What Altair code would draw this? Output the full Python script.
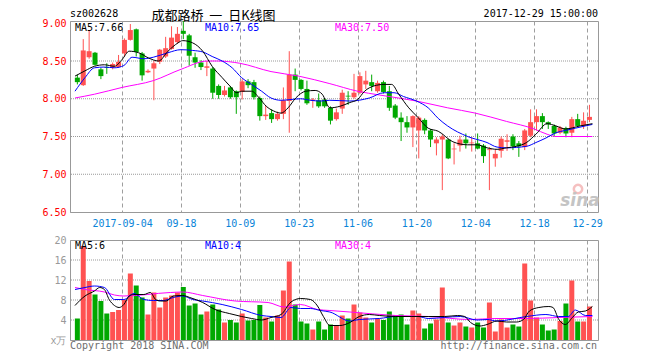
import altair as alt
import pandas as pd

# ---------------- data ----------------
opens = [8.28, 8.18, 8.55, 8.61, 8.39, 8.42, 8.41, 8.42, 8.60, 8.78, 8.92, 8.60, 8.35, 8.40, 8.49,
         8.56, 8.66, 8.75, 8.90, 8.84, 8.55, 8.48, 8.41, 8.40, 8.17, 8.05, 8.15, 8.10, 8.09, 8.23,
         8.22, 8.01, 7.77, 7.81, 7.73, 7.80, 7.97, 8.32, 8.25, 8.13, 7.97, 7.98, 7.99, 7.88, 7.73,
         7.87, 8.04, 8.02, 8.08, 8.19, 8.22, 8.10, 8.22, 8.10, 7.91, 7.75, 7.69, 7.62, 7.58, 7.72,
         7.58, 7.41, 7.46, 7.46, 7.33, 7.38, 7.46, 7.41, 7.41, 7.38, 7.32, 7.21, 7.31, 7.43, 7.50,
         7.41, 7.36, 7.51, 7.69, 7.77, 7.69, 7.64, 7.55, 7.61, 7.55, 7.73, 7.64, 7.72]
highs = [8.32, 8.79, 8.90, 8.62, 8.41, 8.47, 8.48, 8.58, 8.80, 8.99, 8.93, 8.62, 8.39, 8.50, 8.66,
         8.82, 8.96, 8.95, 9.03, 8.86, 8.61, 8.51, 8.50, 8.42, 8.19, 8.17, 8.17, 8.11, 8.26, 8.26,
         8.25, 8.03, 7.91, 7.86, 7.83, 8.15, 8.63, 8.40, 8.26, 8.24, 8.01, 8.07, 8.01, 7.90, 7.87,
         8.12, 8.10, 8.33, 8.35, 8.37, 8.32, 8.24, 8.24, 8.17, 7.93, 7.82, 7.77, 7.78, 7.77, 7.74,
         7.60, 7.49, 7.53, 7.47, 7.41, 7.51, 7.54, 7.49, 7.54, 7.40, 7.36, 7.33, 7.50, 7.53, 7.53,
         7.44, 7.60, 7.86, 7.86, 7.81, 7.70, 7.66, 7.64, 7.63, 7.76, 7.80, 7.82, 7.92]
lows = [8.19, 8.17, 8.53, 8.44, 8.26, 8.33, 8.39, 8.41, 8.56, 8.77, 8.56, 8.24, 8.34, 7.98, 8.46,
        8.54, 8.65, 8.73, 8.79, 8.44, 8.41, 8.38, 8.30, 8.00, 8.00, 8.03, 8.00, 7.80, 7.99, 8.14,
        7.99, 7.71, 7.72, 7.68, 7.71, 7.73, 7.55, 8.10, 8.11, 7.92, 7.88, 7.88, 7.88, 7.66, 7.71,
        7.80, 7.92, 8.00, 8.06, 8.13, 8.10, 8.08, 8.07, 7.84, 7.73, 7.44, 7.55, 7.36, 7.21, 7.53,
        7.36, 7.25, 6.79, 7.20, 7.13, 7.30, 7.34, 7.30, 7.33, 7.15, 6.79, 7.10, 7.22, 7.31, 7.32,
        7.23, 7.32, 7.49, 7.58, 7.60, 7.60, 7.50, 7.53, 7.49, 7.49, 7.63, 7.60, 7.69]
closes = [8.22, 8.64, 8.63, 8.45, 8.30, 8.41, 8.46, 8.49, 8.78, 8.91, 8.62, 8.31, 8.37, 8.47, 8.65,
          8.67, 8.81, 8.86, 8.86, 8.57, 8.48, 8.42, 8.43, 8.08, 8.05, 8.11, 8.02, 8.02, 8.23, 8.18,
          8.02, 7.77, 7.79, 7.73, 7.80, 7.98, 8.32, 8.25, 8.13, 7.94, 7.99, 7.90, 7.90, 7.71, 7.82,
          8.08, 8.03, 8.08, 8.30, 8.24, 8.17, 8.21, 8.09, 7.88, 7.75, 7.69, 7.62, 7.77, 7.75, 7.58,
          7.46, 7.46, 7.50, 7.21, 7.34, 7.46, 7.41, 7.42, 7.34, 7.24, 7.33, 7.27, 7.47, 7.45, 7.37,
          7.37, 7.58, 7.69, 7.77, 7.69, 7.66, 7.54, 7.62, 7.54, 7.73, 7.64, 7.71, 7.76]
volumes = [4.3, 18.8, 11.8, 9.1, 7.8, 5.3, 5.6, 6.0, 8.0, 13.3, 10.9, 8.5, 5.1, 9.5, 6.5,
           8.5, 8.9, 9.5, 10.6, 6.9, 7.3, 5.1, 5.7, 7.1, 6.1, 3.5, 4.0, 3.5, 5.3, 3.9,
           4.0, 7.0, 4.5, 3.7, 4.9, 9.9, 15.7, 7.1, 3.7, 3.3, 2.1, 3.7, 2.1, 3.1, 2.9,
           4.9, 4.3, 7.1, 5.5, 4.5, 3.5, 4.3, 4.0, 5.7, 4.9, 5.1, 3.1, 5.9, 5.3, 2.3,
           3.3, 4.1, 10.5, 3.5, 2.9, 3.5, 2.7, 2.5, 3.5, 2.5, 7.5, 1.7, 4.1, 2.5, 3.1,
           2.7, 15.3, 7.9, 4.5, 3.1, 1.9, 2.1, 3.8, 7.3, 11.9, 3.7, 3.7, 6.7]

# trading-day index of the labelled dates
tick_pos = [8, 18, 28, 38, 48, 58, 68, 78, 87]
tick_labels = ["2017-09-04", "09-18", "10-09", "10-23", "11-06", "11-20", "12-04", "12-18", "12-29"]

price_ticks = [6.5, 7.0, 7.5, 8.0, 8.5, 9.0]
price_grid = [7.0, 7.5, 8.0, 8.5]
vol_ticks = [0, 4, 8, 12, 16, 20]
vol_grid = [4, 8, 12, 16]

# moving-average lines (positions in trading-day units)
ma5_pos = [0, 1.7, 3.3, 5, 6.7, 8, 9.2, 10.8, 12.5, 14.2, 15.8, 17.5, 18.3, 20, 21.7, 23.3, 25, 26.3,
           27.5, 28.3, 30, 31.3, 32.5, 33.7, 35, 36.2, 37.5, 39.2, 40.8, 42, 43.3, 45, 46.7, 48, 49.2,
           50.8, 52.5, 53.8, 55, 56.7, 58.3, 60, 61.7, 64.2, 66.7, 68.3, 70, 71.7, 73.3, 75, 76.7, 78.3,
           80.2, 81.7, 83.3, 85.8, 87.9]
ma5_val = [8.30, 8.37, 8.43, 8.45, 8.43, 8.52, 8.63, 8.61, 8.54, 8.50, 8.63, 8.74, 8.77, 8.74, 8.63,
           8.43, 8.28, 8.17, 8.08, 8.10, 8.10, 8.01, 7.90, 7.84, 7.81, 7.88, 8.01, 8.10, 8.11, 8.06,
           7.88, 7.90, 7.95, 7.99, 8.10, 8.17, 8.19, 8.19, 8.06, 7.88, 7.75, 7.61, 7.57, 7.43, 7.39,
           7.39, 7.35, 7.33, 7.35, 7.37, 7.42, 7.53, 7.67, 7.64, 7.60, 7.64, 7.67]
ma10_pos = [0, 1.7, 3.3, 5, 6.7, 8.3, 9.7, 11.7, 13.3, 15.8, 18, 20, 21.7, 23.3, 25, 26.7, 28.3, 30,
            31.7, 33.3, 35, 36.7, 38.3, 40, 41.7, 43.3, 46.7, 50, 52.5, 54.2, 55.8, 58, 60, 61.7, 63.3,
            66.7, 70, 71.7, 73.3, 76.7, 78.3, 80, 81.7, 83.3, 85, 86.7, 87.9]
ma10_val = [8.10, 8.28, 8.41, 8.42, 8.41, 8.44, 8.55, 8.53, 8.55, 8.61, 8.65, 8.64, 8.62, 8.56, 8.50,
            8.41, 8.28, 8.19, 8.10, 8.01, 7.98, 7.99, 8.00, 7.98, 7.97, 7.98, 7.97, 8.01, 8.08, 8.08,
            8.03, 7.97, 7.88, 7.74, 7.64, 7.50, 7.42, 7.36, 7.35, 7.37, 7.42, 7.48, 7.55, 7.58, 7.61,
            7.64, 7.66]
ma30_pos = [0, 3.3, 8, 13.3, 18, 22.5, 24.2, 28, 33.3, 38, 43.3, 48, 51.7, 58, 63.3, 68, 73.3, 78,
            80.2, 81.7, 87.9]
ma30_val = [8.01, 8.06, 8.15, 8.24, 8.39, 8.50, 8.50, 8.47, 8.36, 8.30, 8.20, 8.10, 8.05, 7.97, 7.88,
            7.81, 7.70, 7.60, 7.53, 7.50, 7.50]

vma5_pos = [0, 1.7, 3.3, 4.2, 5, 5.8, 6.7, 7.5, 8.3, 9.2, 10, 11.7, 12.8, 13.7, 14.5, 15.5, 16.7, 18.3,
            19.5, 21.7, 23.8, 26.2, 28.3, 30, 31.7, 33.3, 35, 36.7, 38.3, 40, 41.2, 42.2, 43.3, 45,
            46.7, 48.3, 50, 51.7, 54.5, 57.2, 60, 62.8, 65, 66.2, 67.2, 68.8, 70, 71.7, 73.3, 75, 76.2,
            77.2, 78.8, 80.5, 81.2, 82.2, 83.3, 84.5, 85.5, 86.7, 87.9]
vma5_val = [6.9, 8.8, 9.8, 10.5, 10.1, 8.1, 6.9, 6.5, 7.1, 8.8, 9.1, 9.1, 9.5, 8.1, 7.8, 7.8, 8.8, 8.9,
            8.5, 7.5, 6.1, 5.3, 4.7, 4.3, 4.0, 4.5, 5.1, 7.6, 8.3, 8.1, 6.8, 4.7, 2.9, 2.9, 3.5, 4.7,
            5.1, 4.9, 4.7, 4.7, 4.7, 4.7, 4.9, 4.7, 3.5, 2.8, 3.1, 3.8, 3.6, 3.6, 4.1, 5.8, 6.5, 6.7,
            6.5, 4.1, 3.1, 4.5, 5.6, 5.8, 6.7]
vma10_pos = [0, 1.7, 3.3, 5, 6.7, 8.3, 10, 11.7, 13.3, 15, 16.7, 18.3, 20, 21.7, 25, 28.3, 31.7, 33.3,
             35, 36.7, 38.3, 40, 41.7, 43.3, 46.7, 48.3, 51.7, 54.5, 58.3, 60, 65.5, 68.3, 70, 71.7,
             76.7, 80, 82.2, 83.8, 85, 86.7, 87.9]
vma10_val = [10.1, 10.5, 10.8, 10.5, 8.1, 8.1, 9.3, 8.1, 7.9, 7.9, 8.5, 8.8, 8.1, 7.8, 7.1, 6.1, 4.9,
             4.7, 4.5, 6.5, 6.3, 6.3, 5.9, 5.6, 3.8, 4.1, 4.3, 4.7, 4.7, 4.3, 4.7, 4.0, 4.1, 3.8, 4.7,
             5.1, 4.7, 4.7, 6.0, 4.9, 4.9]
vma30_pos = [0, 1.7, 5, 6.7, 8.3, 16.2, 18.3, 21.7, 27.2, 32.8, 35.5, 38.3, 41.2, 43.3, 46.7, 54.5, 60,
             67.2, 71.2, 76.7, 82.2, 87.9]
vma30_val = [10.5, 10.1, 9.6, 9.0, 8.8, 9.5, 9.6, 8.9, 7.8, 7.5, 6.6, 7.1, 6.1, 5.9, 5.6, 4.9, 4.7,
             4.1, 4.3, 4.3, 4.5, 4.7]

price_legend = ["MA5:7.66", "MA10:7.65", "MA30:7.50"]
vol_legend = ["MA5:6", "MA10:4", "MA30:4"]
legend_colors = ["#000000", "#0000ff", "#ff00ff"]

# ---------------- chart ----------------
MONO = "DejaVu Sans Mono"
UP, DOWN = "#ff5252", "#00a800"
W, HP, HV = 528, 191, 100
NB = "\u00a0"

n = len(closes)
candles = pd.DataFrame({
    "pos": [i + 0.4 for i in range(n)],
    "open": opens, "high": highs, "low": lows, "close": closes, "vol": volumes,
})
cond = alt.condition("datum.close >= datum.open", alt.value(UP), alt.value(DOWN))

lab_expr = "".join(f"datum.value == {p} ? '{l}' : " for p, l in zip(tick_pos, tick_labels)) + "''"

xs = alt.Scale(domain=[0, 88], nice=False, zero=False)
x_axis_p = alt.Axis(values=tick_pos, labelExpr=lab_expr, title=None, grid=True, gridColor="#9e9e9e",
                    gridDash=[4, 3], gridWidth=1, ticks=False, tickSize=0, domain=False,
                    labelColor="#0a84d8", labelFont=MONO, labelFontSize=10, labelPadding=6,
                    labelFlush=8)
x_axis_v = alt.Axis(values=tick_pos, labels=False, title=None, grid=True, gridColor="#9e9e9e",
                    gridDash=[4, 3], gridWidth=1, ticks=False, tickSize=0, domain=False)

ys_p = alt.Scale(domain=[6.5, 9.03], nice=False, zero=False)
y_axis_p = alt.Axis(values=price_ticks, format=".2f", title=None, grid=False, ticks=False, tickSize=0,
                    domainColor="#999999", labelColor="#ff0000", labelFont=MONO, labelFontSize=10,
                    labelPadding=4, minExtent=30, maxExtent=30)
ys_v = alt.Scale(domain=[0, 20], nice=False)
y_axis_v = alt.Axis(values=vol_ticks, labelExpr="datum.value == 0 ? 'x万' : datum.label", title=None,
                    grid=False, ticks=False, tickSize=0, domainColor="#999999", labelColor="#999999",
                    labelFont=MONO, labelFontSize=10, labelPadding=4, minExtent=30, maxExtent=30)

XP = alt.X("pos:Q", scale=xs, axis=x_axis_p)
XV = alt.X("pos:Q", scale=xs, axis=x_axis_v)


def text(t, x, y, color, align="left", size=10, font=MONO, **kw):
    return alt.Chart(pd.DataFrame({"t": [t]})).mark_text(
        align=align, baseline="middle", font=font, fontSize=size, color=color, **kw
    ).encode(x=alt.value(x), y=alt.value(y), text="t:N")


def ma_line(pos, val, color, X, yscale, yaxis):
    return alt.Chart(pd.DataFrame({"pos": pos, "v": val})).mark_line(
        color=color, strokeWidth=1, interpolate="monotone"
    ).encode(x=X, y=alt.Y("v:Q", scale=yscale, axis=yaxis))


grid_p = alt.Chart(pd.DataFrame({"v": price_grid})).mark_rule(
    color="#999999", strokeDash=[1, 1], strokeWidth=1
).encode(y=alt.Y("v:Q", scale=ys_p, axis=y_axis_p))
wick = alt.Chart(candles).mark_rule(strokeWidth=1).encode(
    x=XP, y=alt.Y("low:Q", scale=ys_p, axis=y_axis_p), y2="high:Q", color=cond)
body = alt.Chart(candles).mark_bar(size=5).encode(
    x=XP, y=alt.Y("open:Q", scale=ys_p, axis=y_axis_p), y2="close:Q", color=cond)

logo = alt.Chart(pd.DataFrame({"t": ["sina"]})).mark_point(
    shape="circle", size=70, filled=False, color="#f2a6a6", strokeWidth=2.5
).encode(x=alt.value(508), y=alt.value(168))

title_cn = f"成都路桥{NB}{NB}一{NB}{NB}日K线图"

price = alt.layer(
    grid_p, wick, body,
    ma_line(ma30_pos, ma30_val, "#ff00ff", XP, ys_p, y_axis_p),
    ma_line(ma10_pos, ma10_val, "#0000ff", XP, ys_p, y_axis_p),
    ma_line(ma5_pos, ma5_val, "#000000", XP, ys_p, y_axis_p),
    text(price_legend[0], 5, 7, legend_colors[0]),
    text(price_legend[1], 135, 7, legend_colors[1]),
    text(price_legend[2], 265, 7, legend_colors[2]),
    text("sz002628", 0, -7, "#000000"),
    text(title_cn, 143.5, -5, "#000000", align="center", size=13, font="Noto Sans CJK SC"),
    text("2017-12-29 15:00:00", W, -7, "#000000", align="right"),
    logo,
    text("sina", 510, 180, "#c4c4c4", align="center", size=17, font="DejaVu Sans",
         fontStyle="italic", fontWeight="bold"),
).properties(width=W, height=HP)

grid_v = alt.Chart(pd.DataFrame({"v": vol_grid})).mark_rule(
    color="#999999", strokeDash=[1, 1], strokeWidth=1
).encode(y=alt.Y("v:Q", scale=ys_v, axis=y_axis_v))
vbars = alt.Chart(candles).mark_bar(size=5).encode(
    x=XV, y=alt.Y("vol:Q", scale=ys_v, axis=y_axis_v), color=cond)

vol = alt.layer(
    grid_v, vbars,
    ma_line(vma30_pos, vma30_val, "#ff00ff", XV, ys_v, y_axis_v),
    ma_line(vma10_pos, vma10_val, "#0000ff", XV, ys_v, y_axis_v),
    ma_line(vma5_pos, vma5_val, "#000000", XV, ys_v, y_axis_v),
    text(vol_legend[0], 5, 6, legend_colors[0]),
    text(vol_legend[1], 135, 6, legend_colors[1]),
    text(vol_legend[2], 265, 6, legend_colors[2]),
    text("Copyright 2018 SINA.COM", 0, 106, "#6e6e6e"),
    text("http://finance.sina.com.cn", W - 1, 106, "#6e6e6e", align="right"),
).properties(width=W, height=HV)

chart = alt.vconcat(price, vol, spacing=5).properties(
    padding={"left": 31, "top": 0, "right": 5, "bottom": 2}, background="white"
).configure_view(stroke="#999999", strokeWidth=1)

chart.save("out.html", embed_options={"renderer": "svg", "actions": False})
